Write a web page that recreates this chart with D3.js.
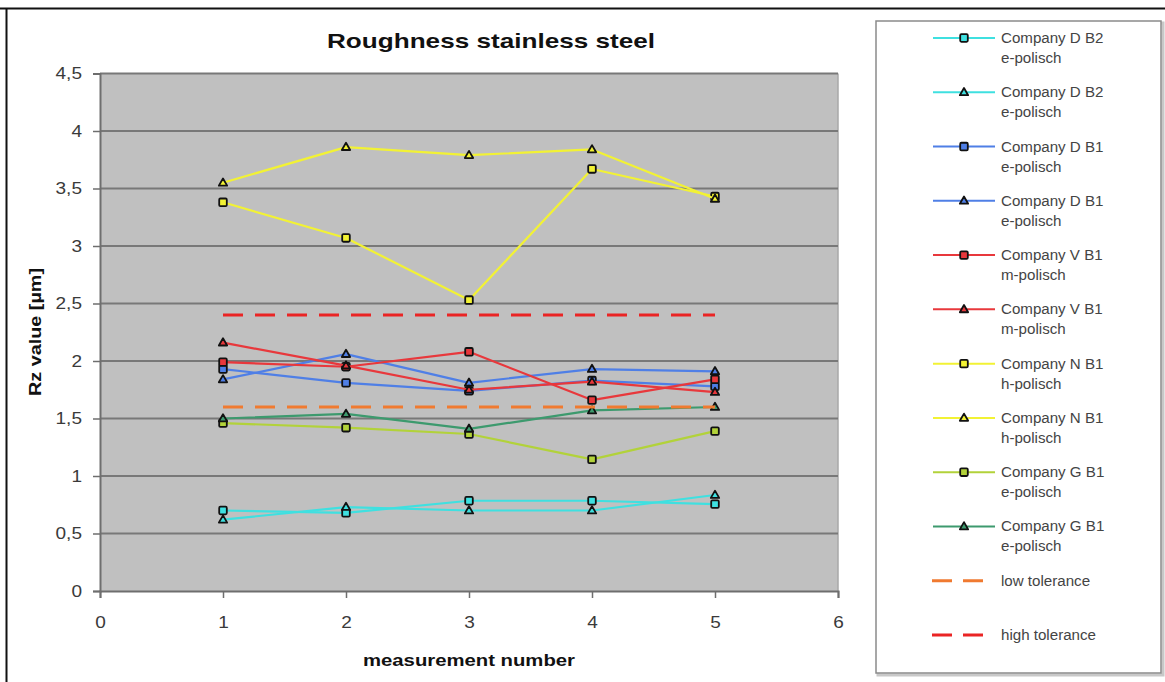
<!DOCTYPE html>
<html>
<head>
<meta charset="utf-8">
<script src="https://cdn.jsdelivr.net/npm/d3@7"></script>
<style>
  html, body { margin: 0; padding: 0; background: #ffffff; }
  svg { display: block; font-family: "Liberation Sans", Arial, sans-serif; }
</style>
</head>
<body>
<svg id="chart" width="1165" height="682"></svg>
<script>
// Measurement positions and tick labels
const measurements = [1, 2, 3, 4, 5];
const xTicks = [0, 1, 2, 3, 4, 5, 6];
const yTicks = [0, 0.5, 1, 1.5, 2, 2.5, 3, 3.5, 4, 4.5];
const yTickLabels = ["0", "0,5", "1", "1,5", "2", "2,5", "3", "3,5", "4", "4,5"];

// Rz values per sample (µm)
const dB2Square   = [0.70, 0.68, 0.785, 0.785, 0.755];
const dB2Triangle = [0.62, 0.73, 0.70, 0.70, 0.835];
const dB1Square   = [1.93, 1.81, 1.74, 1.83, 1.78];
const dB1Triangle = [1.84, 2.06, 1.81, 1.93, 1.91];
const vB1Square   = [1.99, 1.95, 2.08, 1.66, 1.84];
const vB1Triangle = [2.16, 1.96, 1.75, 1.82, 1.73];
const nB1Square   = [3.38, 3.07, 2.53, 3.67, 3.43];
const nB1Triangle = [3.55, 3.86, 3.79, 3.84, 3.41];
const gB1Square   = [1.46, 1.42, 1.365, 1.145, 1.39];
const gB1Triangle = [1.50, 1.54, 1.41, 1.57, 1.60];
const lowTolerance  = [1.6, 1.6, 1.6, 1.6, 1.6];
const highTolerance = [2.4, 2.4, 2.4, 2.4, 2.4];

const seriesNames = [
  ["Company D B2", "e-polisch"], ["Company D B2", "e-polisch"],
  ["Company D B1", "e-polisch"], ["Company D B1", "e-polisch"],
  ["Company V B1", "m-polisch"], ["Company V B1", "m-polisch"],
  ["Company N B1", "h-polisch"], ["Company N B1", "h-polisch"],
  ["Company G B1", "e-polisch"], ["Company G B1", "e-polisch"],
  ["low tolerance"], ["high tolerance"]
];

const series = [
  { values: dB2Square,   color: "#3fe0e0", marker: "square" },
  { values: dB2Triangle, color: "#3fe0e0", marker: "triangle" },
  { values: dB1Square,   color: "#4f7fe6", marker: "square" },
  { values: dB1Triangle, color: "#4f7fe6", marker: "triangle" },
  { values: vB1Square,   color: "#e8383c", marker: "square" },
  { values: vB1Triangle, color: "#e8383c", marker: "triangle" },
  { values: nB1Square,   color: "#f2f234", marker: "square" },
  { values: nB1Triangle, color: "#f2f234", marker: "triangle" },
  { values: gB1Square,   color: "#b2d23a", marker: "square" },
  { values: gB1Triangle, color: "#3d9a6e", marker: "triangle" },
  { values: lowTolerance,  color: "#f07a30", marker: "none", dashed: true },
  { values: highTolerance, color: "#ea2424", marker: "none", dashed: true }
].map((s, i) => Object.assign(s, { name: seriesNames[i] }));

const svg = d3.select("#chart");

// Outer frame
svg.append("line").attr("x1", 0).attr("x2", 1165).attr("y1", 8.5).attr("y2", 8.5)
  .attr("stroke", "#111").attr("stroke-width", 2);
svg.append("line").attr("x1", 6.5).attr("x2", 6.5).attr("y1", 8).attr("y2", 682)
  .attr("stroke", "#111").attr("stroke-width", 2);

const plot = { left: 100, right: 838, top: 73.5, bottom: 591 };
const x = d3.scaleLinear().domain([0, 6]).range([plot.left, plot.right]);
const y = d3.scaleLinear().domain([0, 4.5]).range([plot.bottom, plot.top]);

// Plot background
svg.append("rect")
  .attr("x", plot.left).attr("y", plot.top)
  .attr("width", plot.right - plot.left).attr("height", plot.bottom - plot.top)
  .attr("fill", "#c0c0c0");
svg.append("line").attr("x1", plot.right).attr("x2", plot.right)
  .attr("y1", plot.top).attr("y2", plot.bottom)
  .attr("stroke", "#a8a8a8").attr("stroke-width", 1.5);

// Horizontal gridlines
svg.append("g").selectAll("line").data(yTicks.slice(1)).join("line")
  .attr("x1", plot.left).attr("x2", plot.right)
  .attr("y1", d => y(d)).attr("y2", d => y(d))
  .attr("stroke", "#787878").attr("stroke-width", 2.2);

// Y axis
const yAxis = svg.append("g").attr("transform", `translate(${plot.left},0)`)
  .call(d3.axisLeft(y).tickValues(yTicks).tickSize(7).tickPadding(11)
    .tickFormat((d, i) => yTickLabels[i]));
yAxis.select(".domain").attr("stroke", "#6e6e6e").attr("stroke-width", 2);
yAxis.selectAll(".tick line").attr("stroke", "#6e6e6e").attr("stroke-width", 1.5);
yAxis.selectAll(".tick text").attr("fill", "#3a3a3a").attr("font-size", 17)
  .attr("x", 0).attr("transform", "translate(-18,0) scale(1.12,1)")
  .style("font-family", "'Liberation Sans', Arial, sans-serif");

// X axis
const xAxis = svg.append("g").attr("transform", `translate(0,${plot.bottom})`)
  .call(d3.axisBottom(x).tickValues(xTicks).tickSize(7).tickPadding(18)
    .tickFormat(d3.format("d")));
xAxis.select(".domain").attr("stroke", "#6e6e6e").attr("stroke-width", 2);
xAxis.selectAll(".tick line").attr("stroke", "#6e6e6e").attr("stroke-width", 1.5);
xAxis.selectAll(".tick text").attr("fill", "#3a3a3a").attr("font-size", 17)
  .attr("transform", "scale(1.12,1)")
  .style("font-family", "'Liberation Sans', Arial, sans-serif");

// Titles
svg.append("text").attr("x", 491).attr("y", 48).attr("text-anchor", "middle")
  .attr("font-size", 21).attr("font-weight", "bold").attr("fill", "#111")
  .attr("textLength", 328).attr("lengthAdjust", "spacingAndGlyphs")
  .text("Roughness stainless steel");
svg.append("text").attr("x", 469).attr("y", 666).attr("text-anchor", "middle")
  .attr("font-size", 16).attr("font-weight", "bold").attr("fill", "#111")
  .attr("textLength", 212).attr("lengthAdjust", "spacingAndGlyphs")
  .text("measurement number");
svg.append("text").attr("transform", "translate(41,332) rotate(-90)")
  .attr("text-anchor", "middle")
  .attr("font-size", 17).attr("font-weight", "bold").attr("fill", "#111")
  .attr("textLength", 128).attr("lengthAdjust", "spacingAndGlyphs")
  .text("Rz value [µm]");

// Markers
const triPath = d3.symbol().type(d3.symbolTriangle).size(30);
function drawMarker(g, marker, color) {
  if (marker === "square") {
    g.append("rect").attr("x", -3.8).attr("y", -3.8).attr("width", 7.6).attr("height", 7.6)
      .attr("rx", 1.2).attr("fill", color).attr("stroke", "#111").attr("stroke-width", 1.8);
  } else if (marker === "triangle") {
    g.append("path").attr("d", triPath()).attr("transform", "translate(0,0.5)")
      .attr("fill", color).attr("stroke", "#111").attr("stroke-width", 1.8)
      .attr("stroke-linejoin", "round");
  }
}

// Series lines and markers
const line = d3.line().x((d, i) => x(measurements[i])).y(d => y(d));
series.forEach(s => {
  const g = svg.append("g");
  g.append("path").attr("d", line(s.values)).attr("fill", "none")
    .attr("stroke", s.color).attr("stroke-width", s.dashed ? 3 : 2.2)
    .attr("stroke-dasharray", s.dashed ? "20,12" : null)
    .attr("stroke-linejoin", "round");
  if (s.marker !== "none") {
    s.values.forEach((v, i) => {
      const mg = g.append("g").attr("transform", `translate(${x(measurements[i])},${y(v)})`);
      drawMarker(mg, s.marker, s.color);
    });
  }
});

// Legend
const legend = svg.append("g");
legend.append("rect").attr("x", 877).attr("y", 22).attr("width", 285).attr("height", 652)
  .attr("fill", "none").attr("stroke", "#c8c8c8").attr("stroke-width", 3)
  .attr("transform", "translate(1,1)");
legend.append("rect").attr("x", 876).attr("y", 21).attr("width", 285).attr("height", 652)
  .attr("fill", "#fff").attr("stroke", "#8a8a8a").attr("stroke-width", 1.5);

const legendY = d3.scaleLinear().domain([0, series.length - 1]).range([38, 635]);
series.forEach((s, i) => {
  const ly = legendY(i);
  const g = legend.append("g").attr("transform", `translate(0,${ly})`);
  if (s.dashed) {
    g.append("line").attr("x1", 932).attr("x2", 983).attr("y1", 0).attr("y2", 0)
      .attr("stroke", s.color).attr("stroke-width", 3).attr("stroke-dasharray", "20,11");
  } else {
    g.append("line").attr("x1", 933).attr("x2", 995).attr("y1", 0).attr("y2", 0)
      .attr("stroke", s.color).attr("stroke-width", 2);
    const mg = g.append("g").attr("transform", "translate(964,0)");
    drawMarker(mg, s.marker, s.color);
  }
  const t = g.append("text").attr("transform", "translate(1001,5) scale(1.08,1)")
    .attr("font-size", 14).attr("fill", "#444");
  s.name.forEach((part, k) => {
    t.append("tspan").attr("x", 0).attr("dy", k === 0 ? 0 : 20).text(part);
  });
});
</script>
</body>
</html>
